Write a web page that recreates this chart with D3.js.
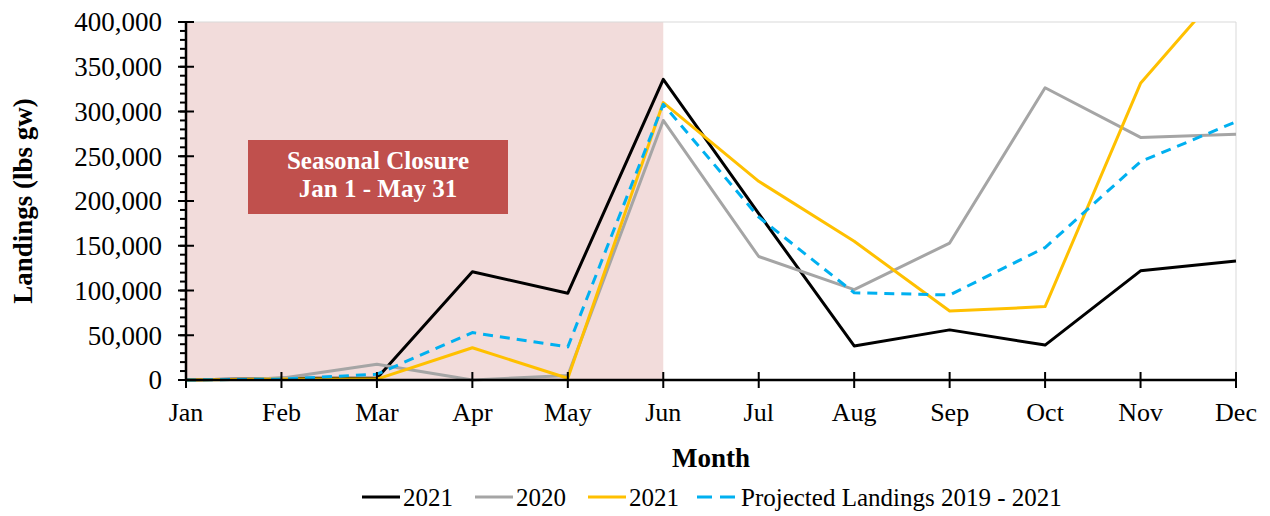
<!DOCTYPE html>
<html>
<head>
<meta charset="utf-8">
<script src="https://cdn.jsdelivr.net/npm/d3@7"></script>
<style>
  html, body { margin: 0; padding: 0; background: #fff; }
  svg { display: block; }
  text { font-family: "Liberation Serif", "Times New Roman", serif; fill: #000; }
</style>
</head>
<body>
<svg id="chart" width="1270" height="516"></svg>
<script>
const months = ["Jan","Feb","Mar","Apr","May","Jun","Jul","Aug","Sep","Oct","Nov","Dec"];
const landings2021 = [0, 2000, 2000, 121000, 97000, 336000, 186000, 38000, 56000, 39000, 122000, 133000];
const landings2020 = [0, 2000, 17500, 0, 5000, 290000, 138000, 101000, 153000, 326500, 271000, 274500];
const landings2021b = [0, 1000, 1000, 36000, 2000, 310000, 222000, 155000, 77000, 82000, 331500, 454000];
const projected = [0, 1000, 6500, 53000, 37000, 308000, 182000, 97500, 95000, 148000, 244000, 288500];
const yTicks = [0, 50000, 100000, 150000, 200000, 250000, 300000, 350000, 400000];
const minorTicks = d3.range(0, 400001, 10000);
const legendLabels = ["2021", "2020", "2021", "Projected Landings 2019 - 2021"];
const closureMonths = ["Jan", "Jun"];
const closureText = ["Seasonal Closure", "Jan 1 - May 31"];

const series = [
  {name: legendLabels[0], values: landings2021, color: "#000000", dash: null},
  {name: legendLabels[1], values: landings2020, color: "#a5a5a5", dash: null},
  {name: legendLabels[2], values: landings2021b, color: "#ffc000", dash: null},
  {name: legendLabels[3], values: projected, color: "#00b0f0", dash: "10,7"}
];

const L = 186, R = 1236, T = 22, B = 380;
const svg = d3.select("#chart");
const x = d3.scalePoint().domain(months).range([L, R]);
const y = d3.scaleLinear().domain([0, 400000]).range([B, T]);

// closure shading
svg.append("rect")
  .attr("x", x(closureMonths[0])).attr("y", T)
  .attr("width", x(closureMonths[1]) - x(closureMonths[0]))
  .attr("height", B - T)
  .attr("fill", "#f2dcdb");

// plot border (light)
svg.append("path")
  .attr("d", `M${L},${T}H${R}V${B}`)
  .attr("fill", "none").attr("stroke", "#d9d9d9").attr("stroke-width", 1);

// closure box
const bx = 248, by = 140, bw = 260, bh = 74;
svg.append("rect").attr("x", bx).attr("y", by).attr("width", bw).attr("height", bh).attr("fill", "#c0504d");
svg.append("text").attr("x", bx + bw/2).attr("y", 169).attr("text-anchor", "middle")
  .style("fill", "#fff").style("font-weight", "bold").style("font-size", "25px").text(closureText[0]);
svg.append("text").attr("x", bx + bw/2).attr("y", 197).attr("text-anchor", "middle")
  .style("fill", "#fff").style("font-weight", "bold").style("font-size", "25px").text(closureText[1]);

// clip
svg.append("clipPath").attr("id", "clip").append("rect")
  .attr("x", L - 2).attr("y", T).attr("width", R - L + 4).attr("height", B - T + 2);

const line = d3.line().x((d, i) => x(months[i])).y(d => y(d));
const g = svg.append("g").attr("clip-path", "url(#clip)");
series.forEach(s => {
  g.append("path").datum(s.values)
    .attr("d", line)
    .attr("fill", "none")
    .attr("stroke", s.color)
    .attr("stroke-width", 3)
    .attr("stroke-linejoin", "round")
    .attr("stroke-dasharray", s.dash);
});

// axes
const axisG = svg.append("g");
axisG.selectAll(".minor").data(minorTicks).enter().append("line")
  .attr("x1", L - 6).attr("x2", L).attr("y1", d => y(d)).attr("y2", d => y(d))
  .attr("stroke", "#000").attr("stroke-width", 2);
axisG.selectAll(".major").data(yTicks).enter().append("line")
  .attr("x1", L - 8).attr("x2", L + 8).attr("y1", d => y(d)).attr("y2", d => y(d))
  .attr("stroke", "#000").attr("stroke-width", 2);
axisG.append("line").attr("x1", L).attr("x2", L).attr("y1", T).attr("y2", B + 1)
  .attr("stroke", "#000").attr("stroke-width", 2.5);
axisG.selectAll(".xt").data(months).enter().append("line")
  .attr("x1", d => x(d)).attr("x2", d => x(d)).attr("y1", B - 8).attr("y2", B + 8)
  .attr("stroke", "#000").attr("stroke-width", 2);
axisG.append("line").attr("x1", L - 1).attr("x2", R + 1).attr("y1", B).attr("y2", B)
  .attr("stroke", "#000").attr("stroke-width", 2.5);

const fmt = d3.format(",");
axisG.selectAll(".yl").data(yTicks).enter().append("text")
  .attr("x", 162).attr("y", d => y(d)).attr("dy", "0.35em")
  .attr("text-anchor", "end").style("font-size", "27px").text(d => fmt(d));
axisG.selectAll(".xl").data(months).enter().append("text")
  .attr("x", d => x(d)).attr("y", 421).attr("text-anchor", "middle")
  .style("font-size", "26px").text(d => d);

svg.append("text").attr("x", (L + R) / 2).attr("y", 467).attr("text-anchor", "middle")
  .style("font-size", "27px").style("font-weight", "bold").text("Month");
svg.append("text").attr("transform", `translate(32,${(T + B) / 2}) rotate(-90)`)
  .attr("text-anchor", "middle").style("font-size", "27px").style("font-weight", "bold")
  .text("Landings (lbs gw)");

// legend
const legendPos = [362, 475, 588, 697];
const lg = svg.append("g");
series.forEach((s, i) => {
  const lx = legendPos[i];
  const len = 38;
  lg.append("line").attr("x1", lx).attr("x2", lx + len).attr("y1", 497).attr("y2", 497)
    .attr("stroke", s.color).attr("stroke-width", 3).attr("stroke-dasharray", s.dash ? "15,8" : null);
  lg.append("text").attr("x", lx + len + (s.dash ? 6 : 3)).attr("y", 506)
    .style("font-size", "25px").text(s.name);
});
</script>
</body>
</html>
